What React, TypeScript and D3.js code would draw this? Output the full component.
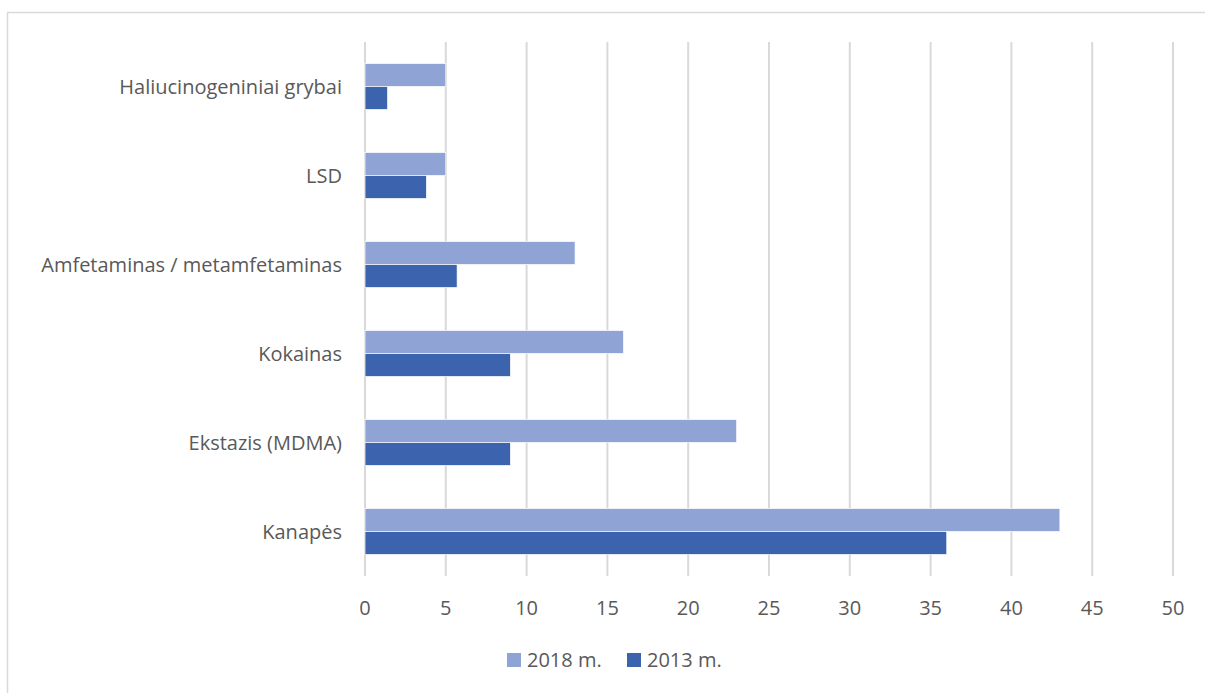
import React, { useEffect, useRef } from "react";
import * as d3 from "d3";

const categories = [
  "Haliucinogeniniai grybai",
  "LSD",
  "Amfetaminas / metamfetaminas",
  "Kokainas",
  "Ekstazis (MDMA)",
  "Kanapės",
];
const values2018 = [5, 5, 13, 16, 23, 43];
const values2013 = [1.4, 3.8, 5.7, 9, 9, 36];
const seriesNames = ["2018 m.", "2013 m."];
const xTicks = [0, 5, 10, 15, 20, 25, 30, 35, 40, 45, 50];

const App = () => {
  const ref = useRef<SVGSVGElement>(null);

  useEffect(() => {
    const svg = d3.select(ref.current);
    svg.selectAll("*").remove();

    const width = 1205;
    const height = 693;
    const margin = { top: 42, right: 32, bottom: 117, left: 365 };
    const font = "'Open Sans', Lato, sans-serif";
    const textColor = "#595959";
    const colors = ["#8FA3D5", "#3C64AE"];

    // Chart frame (runs past the right and bottom edge)
    svg
      .append("rect")
      .attr("x", 7.5)
      .attr("y", 12.5)
      .attr("width", 1210)
      .attr("height", 700)
      .attr("fill", "#fff")
      .attr("stroke", "#d9d9d9")
      .attr("stroke-width", 1.5);

    const x = d3
      .scaleLinear()
      .domain([0, 50])
      .range([margin.left, width - margin.right]);

    const y = d3
      .scaleBand()
      .domain(categories)
      .range([margin.top, height - margin.bottom]);

    // Gridlines
    svg
      .append("g")
      .selectAll("line")
      .data(xTicks)
      .enter()
      .append("line")
      .attr("x1", (d) => x(d))
      .attr("x2", (d) => x(d))
      .attr("y1", margin.top)
      .attr("y2", height - margin.bottom)
      .attr("stroke", "#d9d9d9")
      .attr("stroke-width", 2);

    // Bars
    const barH = 23;
    const series = [values2018, values2013];
    series.forEach((vals, si) => {
      svg
        .append("g")
        .selectAll("rect")
        .data(categories)
        .enter()
        .append("rect")
        .attr("x", x(0))
        .attr("y", (c) => y(c)! + y.bandwidth() / 2 - barH + si * barH)
        .attr("width", (c, i) => x(vals[i]) - x(0))
        .attr("height", barH)
        .attr("fill", colors[si])
        .attr("stroke", "#fff")
        .attr("stroke-width", 0.7);
    });

    // X tick labels
    svg
      .append("g")
      .selectAll("text")
      .data(xTicks)
      .enter()
      .append("text")
      .attr("x", (d) => x(d))
      .attr("y", 615)
      .attr("text-anchor", "middle")
      .attr("font-family", font)
      .attr("font-size", 20)
      .attr("fill", textColor)
      .text((d) => d);

    // Category labels
    svg
      .append("g")
      .selectAll("text")
      .data(categories)
      .enter()
      .append("text")
      .attr("x", 342)
      .attr("y", (c) => y(c)! + y.bandwidth() / 2 + 7)
      .attr("text-anchor", "end")
      .attr("font-family", font)
      .attr("font-size", 20)
      .attr("fill", textColor)
      .text((c) => c);

    // Legend
    const legendX = [507, 627];
    seriesNames.forEach((name, i) => {
      svg
        .append("rect")
        .attr("x", legendX[i])
        .attr("y", 653)
        .attr("width", 14)
        .attr("height", 14)
        .attr("fill", colors[i]);
      svg
        .append("text")
        .attr("x", legendX[i] + 20)
        .attr("y", 667)
        .attr("font-family", font)
        .attr("font-size", 20)
        .attr("fill", textColor)
        .text(name);
    });
  }, []);

  return (
    <svg
      ref={ref}
      width={1205}
      height={693}
      style={{ position: "absolute", left: 0, top: 0, display: "block" }}
    ></svg>
  );
};

export default App;
